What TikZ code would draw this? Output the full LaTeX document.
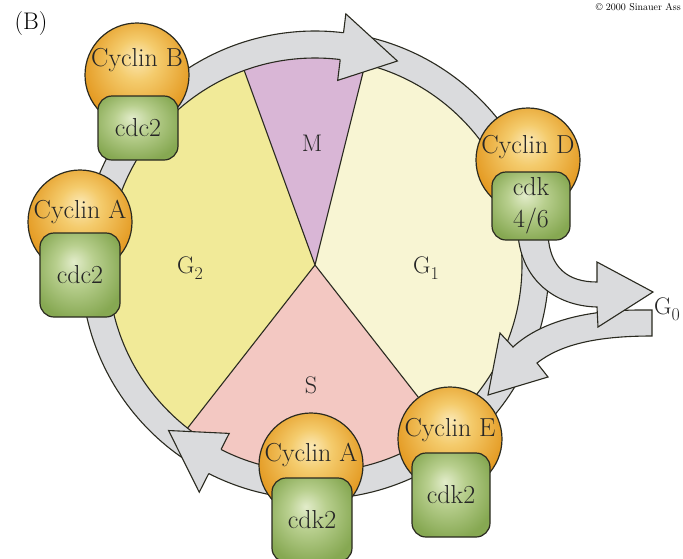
\documentclass[tikz,border=0pt]{standalone}
\usepackage{fontspec}
\usetikzlibrary{calc}
\definecolor{gtwo}{HTML}{F1EA98}
\definecolor{mcol}{HTML}{D9B6D6}
\definecolor{gone}{HTML}{F8F5D3}
\definecolor{scol}{HTML}{F3C8C2}
\definecolor{ringc}{HTML}{DADBDD}
\definecolor{edge}{HTML}{2A2A20}
\definecolor{orin}{HTML}{FBE9B6}
\definecolor{ormid}{HTML}{F4CB6C}
\definecolor{orout}{HTML}{E49A22}
\definecolor{grin}{HTML}{E2ECCA}
\definecolor{grmid}{HTML}{B8CF8E}
\definecolor{grout}{HTML}{86A852}
\pgfdeclareradialshading{domeshade}{\pgfpoint{0bp}{9bp}}{color(0bp)=(orin); color(10bp)=(ormid); color(27bp)=(orout); color(50bp)=(orout)}
\pgfdeclareradialshading{kinshade}{\pgfpoint{-4bp}{8bp}}{color(0bp)=(grin); color(12bp)=(grmid); color(30bp)=(grout); color(50bp)=(grout)}
\newcommand{\subnum}[1]{\raisebox{-6pt}{\fontsize{18}{18}\selectfont #1}}
\begin{document}
\begin{tikzpicture}[x=1pt,y=-1pt,
  lbl/.style={font=\fontsize{24}{28}\selectfont, text=black!85, inner sep=0pt},
  dome/.style={circle, draw=edge, line width=1.2pt, minimum size=104pt, inner sep=0pt, shading=domeshade},
  kin/.style={rectangle, rounded corners=14pt, draw=edge, line width=1.2pt, minimum width=80pt, shading=kinshade, font=\fontsize{26}{32}\selectfont, align=center, text=black!85},
  dtext/.style={font=\fontsize{26}{30}\selectfont, text=black!85},
  band/.style={fill=ringc, draw=edge, line width=1.1pt, line join=miter},
  sep/.style={draw=edge, line width=1.1pt}]
\useasboundingbox (0,0) rectangle (683,558);

% pie
\begin{scope}[shift={(315,265)}]
\fill[gone] (0,0) -- (-76:207) arc[start angle=-76, end angle=52, radius=207] -- cycle;
\fill[scol] (0,0) -- (52:207) arc[start angle=52, end angle=128, radius=207] -- cycle;
\fill[gtwo] (0,0) -- (128:207) arc[start angle=128, end angle=250, radius=207] -- cycle;
\fill[mcol] (0,0) -- (250:207) arc[start angle=250, end angle=284, radius=207] -- cycle;
\draw[sep] (-76:207) -- (0,0) -- (52:207) (128:207) -- (0,0) -- (-110:207);
% ring
\fill[ringc, even odd rule] (0,0) circle[radius=234] (0,0) circle[radius=207];
\draw[edge, line width=1.1pt] (0,0) circle[radius=234] (0,0) circle[radius=207];
% arrowheads on ring
\fill[ringc] (-83:207) -- (-83:186) -- (-68:220) -- (-83:253) -- (-83:234) -- cycle;
\draw[edge, line width=1.1pt, line join=miter] (-83:207) -- (-83:186) -- (-68:220) -- (-83:253) -- (-83:234);
\fill[ringc] (117:207) -- (117:189) -- (131.5:221) -- (117:255) -- (117:234) -- cycle;
\draw[edge, line width=1.1pt, line join=miter] (117:207) -- (117:189) -- (131.5:221) -- (117:255) -- (117:234);
\end{scope}

% return arrow from G0
\draw[band] (652,310) -- (640,310) .. controls (585,310) and (540,322) .. (513,347)
  -- (500,333) -- (488,395) -- (548,377) -- (537,363)
  .. controls (560,345) and (595,336) .. (652,336) -- cycle;
% outgoing arrow to G0
\draw[band] (518,235) .. controls (522,280) and (555,306) .. (597,307)
  -- (598,327) -- (653,292) -- (597,262) -- (597,282)
  .. controls (568,282) and (550,268) .. (548,235) -- cycle;

% phase labels
\node[lbl, anchor=base] (m) at (312,151) {M};
\node[lbl, anchor=base west] (g2) at (177,273) {G\subnum{2}};
\node[lbl, anchor=base west] (g1) at (413,273) {G\subnum{1}};
\node[lbl, anchor=base] (s) at (311,393) {S};
\node[lbl, anchor=base west] (g0) at (654,314) {G\subnum{0}};

% cyclin / kinase complexes
\node[dome, label={[dtext, yshift=15pt]center:Cyclin B}] (cycB) at (137,75) {};
\node[kin, minimum height=64pt] (cdcB) at (138,128) {cdc2};

\node[dome, label={[dtext, yshift=10pt]center:Cyclin A}] (cycA1) at (80,222) {};
\node[kin, minimum height=84pt] (cdcA) at (80,275) {cdc2};

\node[dome, label={[dtext, yshift=13pt]center:Cyclin D}] (cycD) at (528,160) {};
\node[kin, minimum width=78pt, minimum height=68pt] (cdkD) at (531,206) {cdk\\4/6};

\node[dome, label={[dtext, yshift=9pt]center:Cyclin E}] (cycE) at (450,439) {};
\node[kin, minimum width=78pt, minimum height=84pt] (cdkE) at (451,495) {cdk2};

\node[dome, label={[dtext, yshift=10pt]center:Cyclin A}] (cycA2) at (311,465) {};
\node[kin, minimum height=84pt] (cdkA) at (312,520) {cdk2};

% panel label and credit
\node[font=\fontsize{24}{28}\selectfont, inner sep=0pt] (panel) at (31,24) {(B)};
\node[font=\fontsize{10}{12}\selectfont, anchor=base east, inner sep=0pt] (credit) at (681,10) {© 2000 Sinauer Ass};
\end{tikzpicture}
\end{document}
